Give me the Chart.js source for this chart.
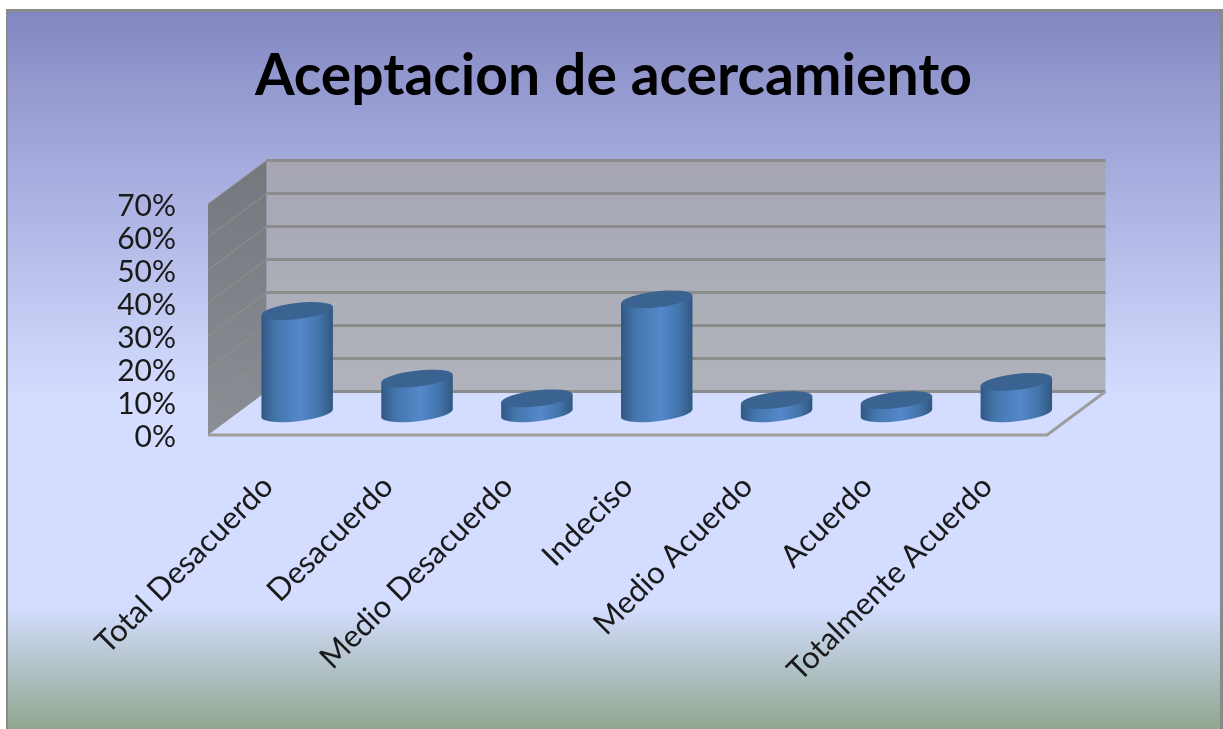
<!DOCTYPE html>
<html>
<head>
<meta charset="utf-8">
<title>Aceptacion de acercamiento</title>
<script src="https://cdn.jsdelivr.net/npm/chart.js@4"></script>
<style>
    html, body { margin: 0; padding: 0; background: #fff; overflow: hidden; }
    canvas { display: block; }
</style>
</head>
<body>
<canvas id="grafica" width="1223" height="729"></canvas>
<script>
// Datos
var categorias = ['Total Desacuerdo', 'Desacuerdo', 'Medio Desacuerdo', 'Indeciso', 'Medio Acuerdo', 'Acuerdo', 'Totalmente Acuerdo'];
var valores = [31, 10.5, 4.5, 34.5, 4, 4, 9.5];
var valorMax = 70;
var pasoEje = 10;

// Profundidad de la caja 3D
var fondoX = 58.5;
var fondoY = -43.5;

// Fondo y marco
var pluginFondo = {
    id: 'fondo',
    beforeDraw: function (chart) {
        var ctx = chart.ctx;
        ctx.save();
        ctx.fillStyle = '#fff';
        ctx.fillRect(0, 0, chart.width, chart.height);
        ctx.fillStyle = '#8a8a8a';
        ctx.fillRect(6, 9, chart.width - 6, chart.height - 9);
        var g = ctx.createLinearGradient(0, 12, 0, chart.height);
        g.addColorStop(0, '#8387c1');
        g.addColorStop(0.16, '#9da2d7');
        g.addColorStop(0.54, '#d4ddff');
        g.addColorStop(0.83, '#d4ddff');
        g.addColorStop(1, '#8fa78e');
        ctx.fillStyle = g;
        ctx.fillRect(8, 12, chart.width - 8 - 3, chart.height - 12);
        ctx.restore();
    }
};

// Paredes, piso y lineas de la grilla
var pluginCaja = {
    id: 'caja',
    beforeDatasetsDraw: function (chart) {
        var ctx = chart.ctx;
        var a = chart.chartArea;
        var y = chart.scales.y;
        ctx.save();

        var gPared = ctx.createLinearGradient(0, a.top + fondoY, 0, a.bottom + fondoY);
        gPared.addColorStop(0, '#a5a6b2');
        gPared.addColorStop(1, '#b0b3bc');
        ctx.fillStyle = gPared;
        ctx.fillRect(a.left + fondoX, a.top + fondoY, a.right - a.left, a.bottom - a.top);

        var gLado = ctx.createLinearGradient(0, a.top + fondoY, 0, a.bottom);
        gLado.addColorStop(0, '#75777f');
        gLado.addColorStop(1, '#8b8e94');
        ctx.fillStyle = gLado;
        ctx.beginPath();
        ctx.moveTo(a.left, a.top);
        ctx.lineTo(a.left + fondoX, a.top + fondoY);
        ctx.lineTo(a.left + fondoX, a.bottom + fondoY);
        ctx.lineTo(a.left, a.bottom);
        ctx.closePath();
        ctx.fill();

        y.ticks.forEach(function (t) {
            var py = y.getPixelForValue(t.value);
            if (t.value > 0) {
                ctx.strokeStyle = '#93938a';
                ctx.lineWidth = 1;
                ctx.beginPath();
                ctx.moveTo(a.left, py);
                ctx.lineTo(a.left + fondoX, py + fondoY);
                ctx.stroke();
            }
            ctx.strokeStyle = '#8c8c8c';
            ctx.lineWidth = 3;
            ctx.beginPath();
            ctx.moveTo(a.left + fondoX, py + fondoY);
            ctx.lineTo(a.right + fondoX, py + fondoY);
            ctx.stroke();
        });

        // borde del piso
        ctx.strokeStyle = '#9d9d9b';
        ctx.lineWidth = 3;
        ctx.beginPath();
        ctx.moveTo(a.left, a.bottom);
        ctx.lineTo(a.right, a.bottom);
        ctx.lineTo(a.right + fondoX, a.bottom + fondoY);
        ctx.stroke();
        ctx.restore();
    }
};

// Cada barra se dibuja como cilindro sobre la posicion que da la escala
var pluginCilindros = {
    id: 'cilindros',
    afterDatasetsDraw: function (chart) {
        var ctx = chart.ctx;
        var giro = -0.115;
        chart.getDatasetMeta(0).data.forEach(function (barra) {
            var cx = barra.x + fondoX / 2;
            var arriba = barra.y + fondoY / 2;
            var abajo = barra.base + fondoY / 2;
            var rx = barra.width / 2;
            var ry = 8;
            var cos = Math.cos(giro), sin = Math.sin(giro);
            var ex = Math.sqrt(rx * rx * cos * cos + ry * ry * sin * sin);
            var ey = (rx * rx - ry * ry) * sin * cos / ex;

            var g = ctx.createLinearGradient(cx - ex, 0, cx + ex, 0);
            g.addColorStop(0, '#2f5785');
            g.addColorStop(0.2, '#4476ad');
            g.addColorStop(0.55, '#5488ca');
            g.addColorStop(0.82, '#4273aa');
            g.addColorStop(1, '#30587f');

            ctx.save();
            ctx.fillStyle = g;
            ctx.beginPath();
            ctx.ellipse(cx, abajo, rx, ry, giro, 0, Math.PI * 2);
            ctx.fill();
            ctx.beginPath();
            ctx.moveTo(cx - ex, arriba - ey);
            ctx.lineTo(cx + ex, arriba + ey);
            ctx.lineTo(cx + ex, abajo + ey);
            ctx.lineTo(cx - ex, abajo - ey);
            ctx.closePath();
            ctx.fill();
            ctx.fillStyle = '#3a6392';
            ctx.beginPath();
            ctx.ellipse(cx, arriba, rx, ry, giro, 0, Math.PI * 2);
            ctx.fill();
            ctx.restore();
        });
    }
};

var ctx = document.getElementById('grafica').getContext('2d');
var grafica = new Chart(ctx, {
    type: 'bar',
    data: {
        labels: categorias,
        datasets: [{
            label: 'Aceptacion',
            data: valores,
            backgroundColor: 'rgba(0,0,0,0)',
            barPercentage: 0.6,
            categoryPercentage: 1
        }]
    },
    options: {
        responsive: false,
        animation: false,
        layout: { padding: { left: 4, right: 0, top: 0, bottom: 0 } },
        plugins: {
            legend: { display: false },
            tooltip: { enabled: false },
            title: {
                display: true,
                text: 'Aceptacion de acercamiento',
                color: '#000',
                font: { family: 'Lato', size: 57, weight: 'bold', lineHeight: 1.2 },
                padding: { top: 42, bottom: 93.6 }
            }
        },
        scales: {
            x: {
                grid: { display: false },
                border: { display: false },
                afterFit: function (s) { s.height = 294; },
                ticks: {
                    color: '#1a1a1a',
                    font: { family: 'Lato', size: 31 },
                    minRotation: 45,
                    maxRotation: 45,
                    padding: 25,
                    autoSkip: false
                }
            },
            y: {
                min: 0,
                max: valorMax,
                grid: { display: false },
                border: { display: false },
                afterFit: function (s) { s.width = 204; },
                ticks: {
                    color: '#1a1a1a',
                    stepSize: pasoEje,
                    autoSkip: false,
                    font: { family: 'Lato', size: 30 },
                    padding: 24,
                    labelOffset: 2,
                    callback: function (v) { return v + '%'; }
                }
            },
            // eje vacio: reserva el margen derecho sin mover el titulo
            derecha: {
                type: 'linear',
                position: 'right',
                display: true,
                grid: { display: false },
                border: { display: false },
                ticks: { display: false },
                afterFit: function (s) { s.width = 176; }
            }
        }
    },
    plugins: [pluginFondo, pluginCaja, pluginCilindros]
});
</script>
</body>
</html>
